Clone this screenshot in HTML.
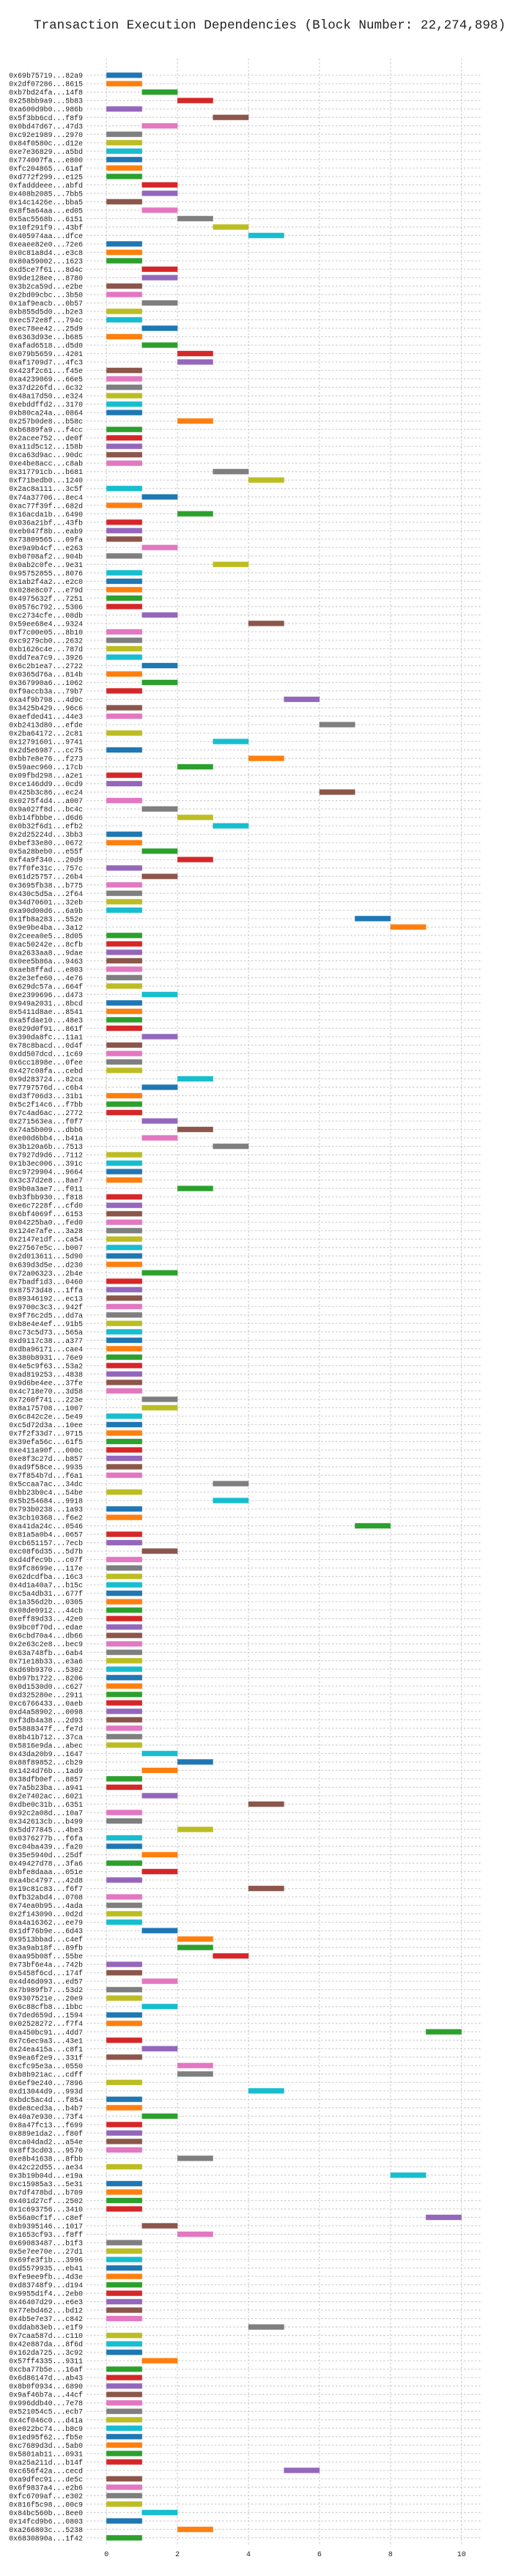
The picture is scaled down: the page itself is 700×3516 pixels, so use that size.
<!DOCTYPE html>
<html><head><meta charset="utf-8">
<style>
html,body{margin:0;padding:0;background:#fff;}
svg{display:block;}
text{font-family:"Liberation Mono","DejaVu Sans Mono",monospace;fill:#222;}
</style></head>
<body>
<svg id="chart" width="700" height="3516" viewBox="0 0 700 3516" xmlns="http://www.w3.org/2000/svg">
<text x="46" y="39" font-size="17.6">Transaction Execution Dependencies (Block Number: 22,274,898)</text>
<g id="grid"></g><g id="bars"></g><g id="labels"></g><g id="xticks"></g>
</svg>
<script>
const txLabels = ["0x69b75719...82a9","0x2df07286...8615","0xb7bd24fa...14f8","0x258bb9a9...5b83","0xa600d9b0...986b","0x5f3bb6cd...f8f9","0x0bd47d67...47d3","0xc92e1989...2970","0x84f0580c...d12e","0xe7e36829...a5bd",
"0x774007fa...e800","0xfc204865...61af","0xd772f299...e125","0xfadddeee...abfd","0x408b2085...7bb5","0x14c1426e...bba5","0x8f5a64aa...ed05","0x5ac5568b...6151","0x10f291f9...43bf","0x405974aa...dfce",
"0xeaee82e0...72e6","0x0c81a8d4...e3c8","0x80a59002...1623","0xd5ce7f61...8d4c","0x9de128ee...8780","0x3b2ca59d...e2be","0x2bd09cbc...3b50","0x1af9eacb...0b57","0xb855d5d0...b2e3","0xec572e8f...794c",
"0xec78ee42...25d9","0x6363d93e...b685","0xafad6518...d5d0","0x079b5659...4201","0xaf1709d7...4fc3","0x423f2c61...f45e","0xa4239069...66e5","0x37d226fd...6c32","0x48a17d50...e324","0xebddffd2...3170",
"0xb80ca24a...0864","0x257b0de8...b58c","0xb6889fa9...f4cc","0x2acee752...de0f","0xa11d5c12...158b","0xca63d9ac...90dc","0xe4be8acc...c8ab","0x317791cb...b681","0xf71bedb0...1240","0x2ac8a111...3c5f",
"0x74a37706...8ec4","0xac77f39f...682d","0x16acda1b...6490","0x036a21bf...43fb","0xeb047f8b...eab9","0x73809565...09fa","0xe9a9b4cf...e263","0xb0708af2...904b","0x0ab2c0fe...9e31","0x95752855...8076",
"0x1ab2f4a2...e2c0","0x028e8c07...e79d","0x4975632f...7251","0x0576c792...5306","0xc2734cfe...08db","0x59ee68e4...9324","0xf7c00e05...8b10","0xc9279cb0...2632","0xb1626c4e...787d","0xdd7ea7c9...3926",
"0x6c2b1ea7...2722","0x0365d76a...814b","0x367990a6...1062","0xf9accb3a...79b7","0xa4f9b798...4d9c","0x3425b429...96c6","0xaefded41...44e3","0xb2413d80...efde","0x2ba64172...2c81","0x12791601...9741",
"0x2d5e6987...cc75","0xbb7e8e76...f273","0x59aec960...17cb","0x09fbd298...a2e1","0xce146dd9...0cd9","0x425b3c86...ec24","0x0275f4d4...a007","0x9a027f8d...bc4c","0xb14fbbbe...d6d6","0x0b32f6d1...efb2",
"0x2d25224d...3bb3","0xbef33e80...0672","0x5a28beb0...e55f","0xf4a9f340...20d9","0x7f0fe31c...757c","0x61d25757...26b4","0x3695fb38...b775","0x430c5d5a...2f64","0x34d70601...32eb","0xa90d00d6...6a9b",
"0x1fb8a283...552e","0x9e9be4ba...3a12","0x2ceea0e5...8d05","0xac50242e...8cfb","0xa2633aa8...9dae","0x0ee5b86a...9463","0xaeb8ffad...e803","0x2e3efe60...4e76","0x629dc57a...664f","0xe2399696...d473",
"0x949a2031...8bcd","0x5411d8ae...8541","0xa5fdae10...48e3","0x029d0f91...861f","0x390da8fc...11a1","0x78c8bacd...0d4f","0xdd507dcd...1c69","0x6cc1898e...0fee","0x427c08fa...cebd","0x9d283724...82ca",
"0x7797576d...c6b4","0xd3f706d3...31b1","0x5c2f14c6...f7bb","0x7c4ad6ac...2772","0x271563ea...f0f7","0x74a5b009...dbb6","0xe00d6bb4...b41a","0x3b120a6b...7513","0x7927d9d6...7112","0x1b3ec006...391c",
"0xc9729904...9664","0x3c37d2e8...8ae7","0x9b0a3ae7...f011","0xb3fbb930...f818","0xe6c7228f...cfd0","0x6bf4069f...6153","0x04225ba0...fed0","0x124e7afe...3a28","0x2147e1df...ca54","0x27567e5c...b007",
"0x2d013611...5d90","0x639d3d5e...d230","0x72a06323...2b4e","0x7badf1d3...0460","0x87573d48...1ffa","0x89346192...ec13","0x9700c3c3...942f","0x9f76c2d5...dd7a","0xb8e4e4ef...91b5","0xc73c5d73...565a",
"0xd9117c38...a377","0xdba96171...cae4","0x380b8931...76e9","0x4e5c9f63...53a2","0xad819253...4838","0x9d6be4ee...37fe","0x4c718e70...3d58","0x7260f741...223e","0x8a175708...1007","0x6c842c2e...5e49",
"0xc5d72d3a...10ee","0x7f2f33d7...9715","0x39efa56c...61f5","0xe411a90f...000c","0xe8f3c27d...b857","0xad9f58ce...9935","0x7f854b7d...f6a1","0x5ccaa7ac...34dc","0xbb23b0c4...54be","0x5b254684...9918",
"0x793b0238...1a93","0x3cb10368...f6e2","0xa41da24c...0546","0x81a5a0b4...0657","0xcb651157...7ecb","0xc08f6d35...5d7b","0xd4dfec9b...c07f","0x9fc8699e...117e","0x62dcdfba...16c3","0x4d1a40a7...b15c",
"0xc5a4db31...677f","0x1a356d2b...0305","0x08de0912...44cb","0xeff89d33...42e0","0x9bc0f70d...edae","0x6cbd70a4...db66","0x2e63c2e8...bec9","0x63a748fb...6ab4","0x71e18b33...e3a6","0xd69b9370...5302",
"0xb97b1722...8206","0x0d1530d0...c627","0xd325280e...2911","0xc6766433...0aeb","0xd4a58902...0098","0xf3db4a38...2d93","0x5888347f...fe7d","0x8b41b712...37ca","0x5816e9da...abec","0x43da20b9...1647",
"0x88f89852...cb29","0x1424d76b...1ad9","0x38dfb0ef...8857","0x7a5b23ba...a941","0x2e7402ac...6021","0xdbe0c31b...6351","0x92c2a08d...10a7","0x342613cb...b499","0x5dd77845...4be3","0x0376277b...f6fa",
"0xc04ba439...fa20","0x35e5940d...25df","0x49427d78...3fa6","0xbfe8daaa...051e","0xa4bc4797...42d8","0x19c81c83...f6f7","0xfb32abd4...0708","0x74ea0b95...4ada","0x2f143090...0d2d","0xa4a16362...ee79",
"0x1df76b9e...6d43","0x9513bbad...c4ef","0x3a9ab18f...89fb","0xaa95b08f...55be","0x73bf6e4a...742b","0x5458f6cd...174f","0x4d46d093...ed57","0x7b989fb7...53d2","0x9307521e...20e9","0x6c88cfb8...1bbc",
"0x7ded659d...1594","0x02528272...f7f4","0xa450bc91...4dd7","0x7c6ec9a3...43e1","0x24ea415a...c8f1","0x9ea6f2e9...331f","0xcfc95e3a...0550","0xb8b921ac...cdff","0x6ef9e240...7896","0xd13044d9...993d",
"0xbdc5ac4d...f854","0xde8ced3a...b4b7","0x40a7e930...73f4","0x8a47fc13...f699","0x889e1da2...f80f","0xca04dad2...a54e","0x8ff3cd03...9570","0xe8b41638...8fbb","0x42c22d55...ae34","0x3b19b04d...e19a",
"0xc15985a3...5e31","0x7df478bd...b709","0x401d27cf...2502","0x1c693756...3410","0x56a0cf1f...c8ef","0xb9395146...1017","0x1653cf93...f8ff","0x69083487...b1f3","0x5e7ee70e...27d1","0x69fe3f1b...3996",
"0xd5579935...eb41","0xfe9ee9fb...4d3e","0xd83748f9...d194","0x9955d1f4...2eb0","0x46407d29...e6e3","0x77ebd462...bd12","0x4b5e7e37...c842","0xddab83eb...e1f9","0x7caa587d...c110","0x42e887da...8f6d",
"0x162da725...3c92","0x57ff4335...9311","0xcba77b5e...16af","0x6d86147d...ab43","0x8b0f0934...6890","0x9af46b7a...44cf","0x996ddb40...7e78","0x521054c5...ecb7","0x4cf046c0...d41a","0xe022bc74...b8c9",
"0x1ed95f62...fb5e","0xc7689d3d...5ab0","0x5801ab11...0931","0xa25a211d...b14f","0xc656f42a...cecd","0xa9dfec91...de5c","0x6f9837a4...e2b6","0xfc6709af...e302","0x816f5c98...00c9","0x84bc560b...8ee0",
"0x14fcd9b6...0803","0xa266803c...5238","0x6830890a...1f42"];
const startTimes = [0,0,1,2,0,3,1,0,0,0, 0,0,0,1,1,0,1,2,3,4, 0,0,0,1,1,0,0,1,0,0,
1,0,1,2,2,0,0,0,0,0, 0,2,0,0,0,0,0,3,4,0, 1,0,2,0,0,0,1,0,3,0,
0,0,0,0,1,4,0,0,0,0, 1,0,1,0,5,0,0,6,0,3, 0,4,2,0,0,6,0,1,2,3,
0,0,1,2,0,1,0,0,0,0, 7,8,0,0,0,0,0,0,0,1, 0,0,0,0,1,0,0,0,0,2,
1,0,0,0,1,2,1,3,0,0, 0,0,2,0,0,0,0,0,0,0, 0,0,1,0,0,0,0,0,0,0,
0,0,0,0,0,0,0,1,1,0, 0,0,0,0,0,0,0,3,0,3, 0,0,7,0,0,1,0,0,0,0,
0,0,0,0,0,0,0,0,0,0, 0,0,0,0,0,0,0,0,0,1, 2,1,0,0,1,4,0,0,2,0,
0,1,0,1,0,4,0,0,0,0, 1,2,2,3,0,0,1,0,0,1, 0,0,9,0,1,0,2,2,0,4,
0,0,1,0,0,0,0,2,0,8, 0,0,0,0,9,1,2,0,0,0, 0,0,0,0,0,0,0,4,0,0,
0,1,0,0,0,0,0,0,0,0, 0,0,0,0,5,0,0,0,0,1, 0,2,0];
const durations = txLabels.map(() => 1);
const tickValues = [0,2,4,6,8,10];
const palette = ["#1f77b4","#ff7f0e","#2ca02c","#d62728","#9467bd","#8c564b","#e377c2","#7f7f7f","#bcbd22","#17becf"];

const NS = "http://www.w3.org/2000/svg";
const X0 = 145.3, UNIT = 48.44, PL = 118, PR = 657, PT = 80, PB = 3473;
const ROW0 = 102.7, PITCH = 11.511, BARH = 7;
const xs = v => X0 + v * UNIT;
const ys = i => ROW0 + i * PITCH;
function mk(tag, attrs, parent){ const e = document.createElementNS(NS, tag); for (const k in attrs) e.setAttribute(k, attrs[k]); parent.appendChild(e); return e; }
const grid = document.getElementById('grid'), bars = document.getElementById('bars'), labels = document.getElementById('labels'), xt = document.getElementById('xticks');

tickValues.forEach(v => {
  const l = mk('line', {x1: xs(v), x2: xs(v), y1: PT, y2: PB, stroke: '#cfcfcf', 'stroke-width': 1.2, 'stroke-dasharray': '2.5,2.5'}, grid);
  
  
  const t = mk('text', {x: xs(v), y: 3489, 'font-size': 10, 'text-anchor': 'middle'}, xt);
  t.textContent = v;
  
  
});

txLabels.forEach((lab, i) => {
  const y = ys(i);
  const g = mk('line', {x1: PL, x2: PR, y1: y, y2: y, stroke: '#cfcfcf', 'stroke-width': 1.2, 'stroke-dasharray': '2.5,2.5'}, grid);
  
  
  const t = mk('text', {x: 113, y: y + 3.5, 'font-size': 9.9, 'text-anchor': 'end'}, labels);
  t.textContent = lab;
  
  
  const r = mk('rect', {x: xs(startTimes[i]), y: y - BARH / 2, width: durations[i] * UNIT, height: BARH, fill: palette[i % 10], stroke: palette[i % 10], 'stroke-opacity': 0.4, 'stroke-width': 0.8}, bars);
  
  
});
</script>
</body></html>
